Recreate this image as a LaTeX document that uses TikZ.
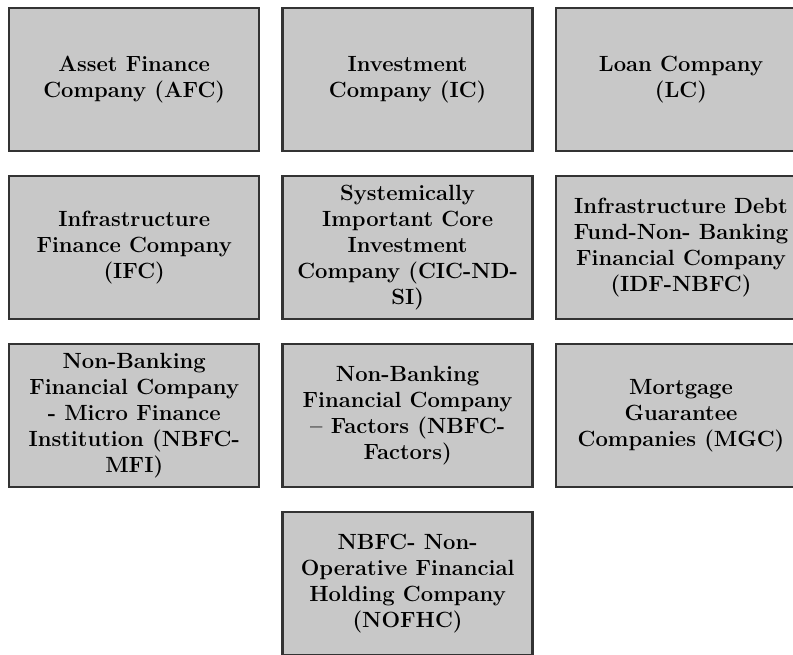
\documentclass[tikz,border=0pt]{standalone}
\usepackage{tikz}
\usetikzlibrary{positioning}
\definecolor{nbGray}{HTML}{C8C8C8}
\definecolor{nbEdge}{HTML}{333333}
\tikzset{
  nbfc/.style={
    draw=nbEdge, fill=nbGray, line width=1.2pt,
    minimum width=125pt, minimum height=71.3pt,
    font=\fontsize{11}{13}\selectfont\bfseries, align=center
  }
}
\begin{document}
\begin{tikzpicture}[node distance=11.5pt and 10.5pt]
  \useasboundingbox (0,0) rectangle (396.5pt,-327pt);
  % first row
  \node[nbfc, anchor=north west] (afc) at (4pt,-3.5pt) {Asset Finance\\Company (AFC)};
  \node[nbfc, right=of afc] (ic) {Investment\\Company (IC)};
  \node[nbfc, right=of ic] (lc) {Loan Company\\(LC)};
  % second row
  \node[nbfc, below=of afc] (ifc) {Infrastructure\\Finance Company\\(IFC)};
  \node[nbfc, below=of ic] (cic) {Systemically\\Important Core\\Investment\\Company (CIC-ND-\\SI)};
  \node[nbfc, below=of lc] (idf) {Infrastructure Debt\\Fund-Non- Banking\\Financial Company\\(IDF-NBFC)};
  % third row
  \node[nbfc, below=of ifc] (mfi) {Non-Banking\\Financial Company\\- Micro Finance\\Institution (NBFC-\\MFI)};
  \node[nbfc, below=of cic] (fact) {Non-Banking\\Financial Company\\-- Factors (NBFC-\\Factors)};
  \node[nbfc, below=of idf] (mgc) {Mortgage\\Guarantee\\Companies (MGC)};
  % last row
  \node[nbfc, below=of fact] (nofhc) {NBFC- Non-\\Operative Financial\\Holding Company\\(NOFHC)};
\end{tikzpicture}
\end{document}
